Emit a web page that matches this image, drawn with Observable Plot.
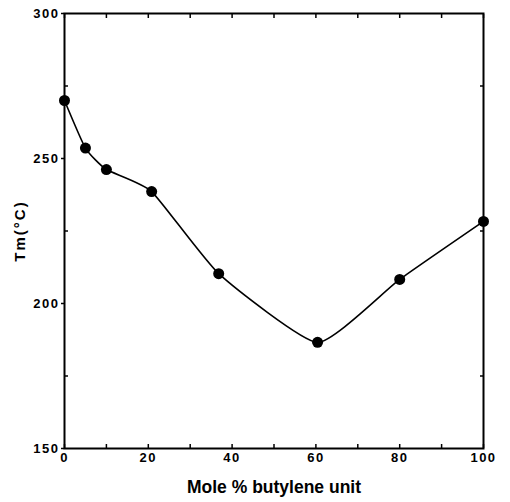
<!DOCTYPE html>
<html>
<head>
<meta charset="utf-8">
<script src="https://cdn.jsdelivr.net/npm/d3@7"></script>
<script src="https://cdn.jsdelivr.net/npm/@observablehq/plot@0.6"></script>
<style>
  html, body { margin: 0; padding: 0; background: #fff; }
  svg { font-family: "Liberation Sans", Arial, sans-serif; }
</style>
</head>
<body>
<div id="chart"></div>
<script>
const molePct = [0, 5, 10, 20.8, 36.8, 60.4, 80, 100];
const tm = [270, 253.6, 246.2, 238.6, 210.3, 186.6, 208.3, 228.3];
const xTicks = [0, 10, 20, 30, 40, 50, 60, 70, 80, 90, 100];
const yMajor = [150, 200, 250, 300];
const yMinor = [175, 225, 275];

const data = molePct.map((x, i) => ({x, y: tm[i]}));

const chart = Plot.plot({
  width: 510,
  height: 502,
  marginLeft: 64,
  marginRight: 27,
  marginTop: 13,
  marginBottom: 54,
  x: {domain: [0, 100]},
  y: {domain: [150, 300]},
  style: {fontFamily: "Liberation Sans, Arial, sans-serif", color: "#000"},
  marks: [
    Plot.frame({stroke: "#000", strokeWidth: 2}),
    Plot.axisX({ticks: xTicks, tickSize: -4, tickPadding: 8, strokeWidth: 1.5,
      tickFormat: d => d % 20 === 0 ? d : "", fontSize: 13, fontWeight: "bold",
      label: "Mole % butylene unit", labelAnchor: "center", labelArrow: "none", labelOffset: 44}),
    Plot.axisX({anchor: "top", ticks: xTicks, tickSize: -4, tickFormat: () => "", label: null, strokeWidth: 1.5}),
    Plot.axisY({ticks: yMajor, tickSize: 3, tickPadding: 2, strokeWidth: 1.5,
      fontSize: 13, fontWeight: "bold",
      label: "Tm(°C)", labelAnchor: "center", labelArrow: "none", labelOffset: 50}),
    Plot.axisY({ticks: yMinor, tickSize: -4, tickFormat: () => "", label: null, strokeWidth: 1.5}),
    Plot.axisY({anchor: "right", ticks: yMinor, tickSize: -4, tickFormat: () => "", label: null, strokeWidth: 1.5}),
    Plot.line(data, {x: "x", y: "y", curve: "cardinal", tension: 0.5, stroke: "#000", strokeWidth: 1.6}),
    Plot.dot(data, {x: "x", y: "y", r: 5.5, fill: "#000", stroke: "none"})
  ]
});

d3.select(chart).selectAll("[aria-label='x-axis tick label'] text, [aria-label='y-axis tick label'] text")
  .attr("letter-spacing", "1.5px");
d3.select(chart).selectAll("[aria-label='x-axis label'] text")
  .attr("font-size", "17.5px").attr("font-weight", "bold");
d3.select(chart).selectAll("[aria-label='y-axis label'] text")
  .attr("font-size", "15px").attr("font-weight", "bold").attr("letter-spacing", "2px");

document.getElementById("chart").appendChild(chart);
</script>
</body>
</html>
